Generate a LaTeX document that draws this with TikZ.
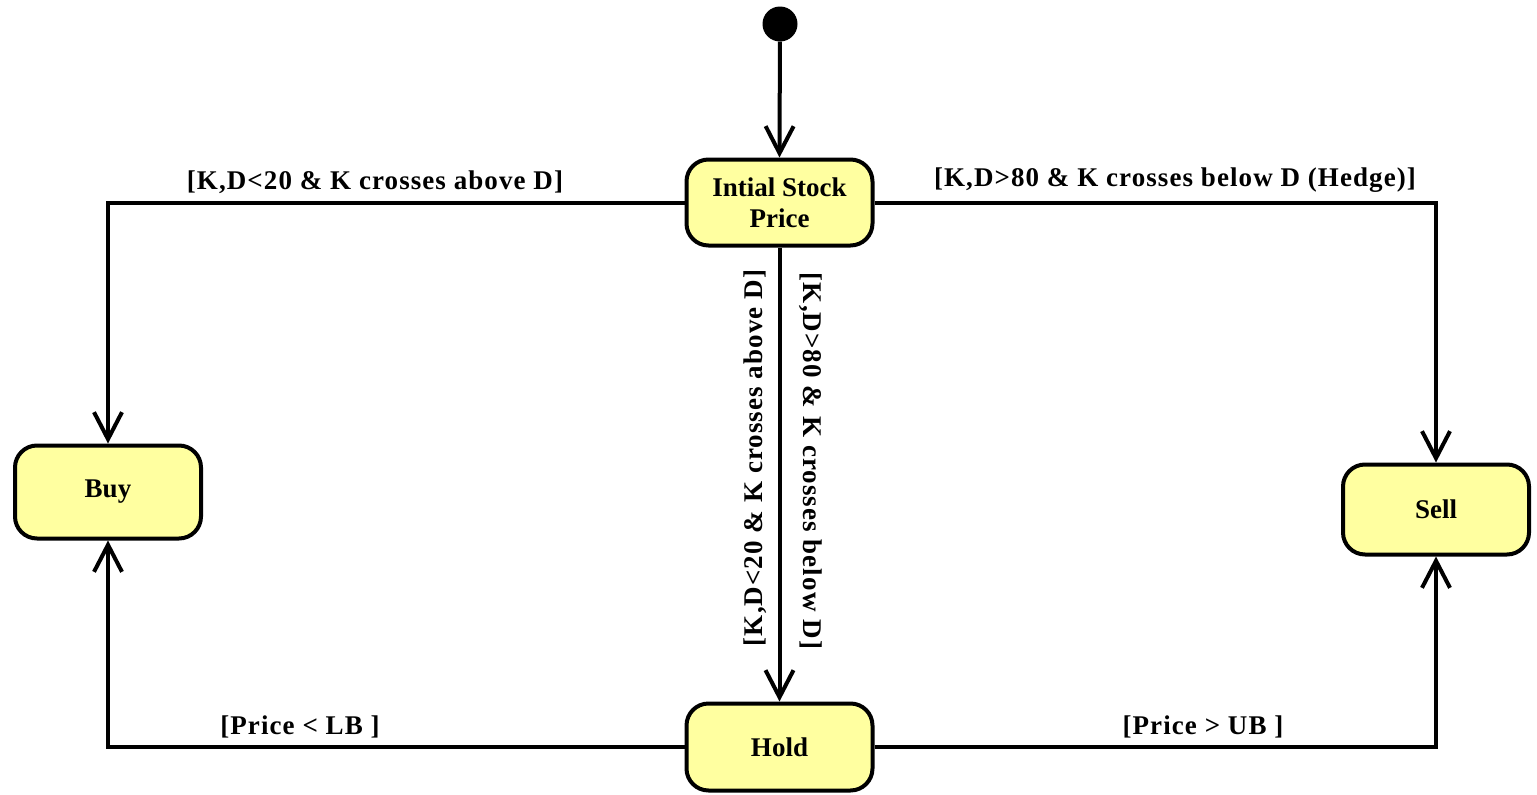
\documentclass[tikz,border=0pt]{standalone}
\usepackage{fontspec}
\setmainfont{Liberation Serif}
\newfontfamily\lblfont[LetterSpace=4]{Liberation Serif}
\usetikzlibrary{arrows.meta}
\definecolor{statefill}{RGB}{255,255,160}
\tikzset{
  statebox/.style={draw=black, line width=4pt, fill=statefill, rounded corners=22pt,
    minimum width=186pt, inner sep=0pt, align=center,
    font=\fontsize{27}{31}\selectfont\bfseries},
  conn/.style={draw=black, line width=4pt, -{Straight Barb[length=27pt,width=28pt,line width=4pt]}},
  lbl/.style={inner sep=0pt, font=\lblfont\fontsize{27}{31}\selectfont\bfseries},
}
\begin{document}
\begin{tikzpicture}[x=1pt,y=-1pt]
\fill[white] (0,0) rectangle (1537,795);
\useasboundingbox (0,0) rectangle (1537,795);
\node[circle, fill=black, minimum size=35pt, inner sep=0pt] (start) at (780,24) {};
\node[statebox, minimum height=86pt] (init) at (779.5,202.5) {Intial Stock\\Price};
\node[statebox, minimum height=93pt] (buy) at (108,492) {Buy};
\node[statebox, minimum height=90pt] (sell) at (1436,509.5) {Sell};
\node[statebox, minimum height=87pt] (hold) at (779.5,747) {Hold};

\draw[conn] (start) -- (init.north);
\draw[conn] (init.west) -| (buy.north);
\draw[conn] (init.east) -| (sell.north);
\draw[conn] (init.south) -- (hold.north);
\draw[conn] (hold.west) -| (buy.south);
\draw[conn] (hold.east) -| (sell.south);

\node[lbl] (l1) at (375,182) {[K,D<20 \& K crosses above D]};
\node[lbl] (l2) at (1175,180) {[K,D>80 \& K crosses below D (Hedge)]};
\node[lbl, rotate=90] (l3) at (755,458) {[K,D<20 \& K crosses above D]};
\node[lbl, rotate=-90] (l4) at (811,461) {[K,D>80 \& K crosses below D]};
\node[lbl] (l5) at (300,727) {[Price < LB ]};
\node[lbl] (l6) at (1203,727) {[Price > UB ]};
\end{tikzpicture}
\end{document}
